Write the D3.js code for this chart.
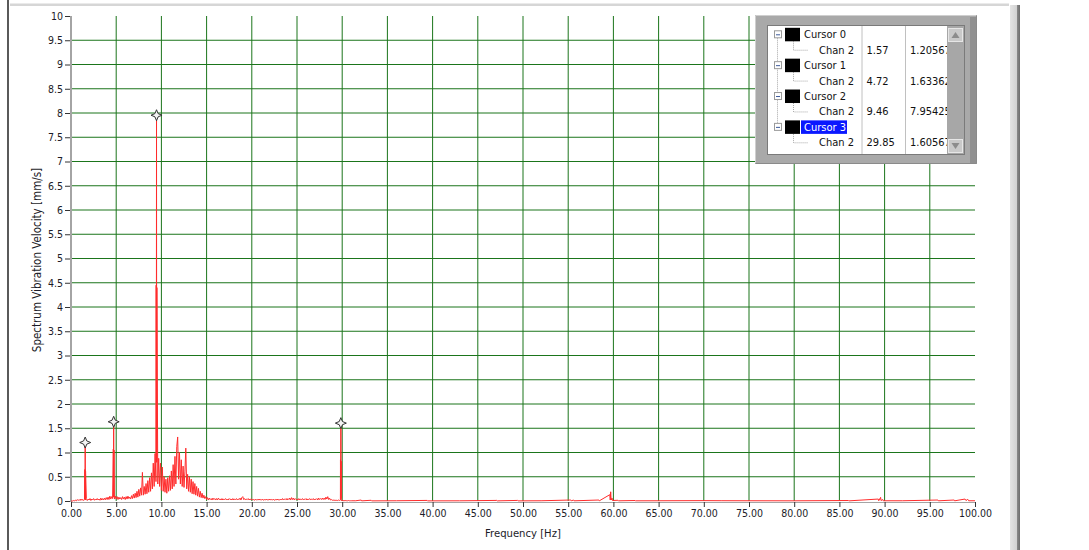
<!DOCTYPE html>
<html><head><meta charset="utf-8">
<script src="https://cdn.jsdelivr.net/npm/d3@7"></script>
<style>
html,body{margin:0;padding:0;background:#fff;}
svg{display:block;}
text{font-family:"DejaVu Sans Condensed","DejaVu Sans",sans-serif;font-stretch:condensed;}
</style></head>
<body>
<svg id="chart" width="1089" height="550"></svg>
<script>
// ---------- DATA ----------
const xTicks = [0,5,10,15,20,25,30,35,40,45,50,55,60,65,70,75,80,85,90,95,100];
const yTicks = [0,0.5,1,1.5,2,2.5,3,3.5,4,4.5,5,5.5,6,6.5,7,7.5,8,8.5,9,9.5,10];
const xLabel = "Frequency [Hz]";
const yLabel = "Spectrum Vibration Velocity [mm/s]";

// spectrum 0.0 .. 31.0 Hz, one value every 0.1 Hz
const baseStart = 0, baseStep = 0.1;
const spectrumLow = [
 0,0,0,0.01,0,0.02,0.005,0.03,0.01,0.03,
 0.01,0.04,0.015,0.03,0.01,0.04,0.02,0.05,0.01,0.04,
 0.02,0.05,0.01,0.04,0.02,0.05,0.015,0.04,0.02,0.05,
 0.02,0.04,0.015,0.06,0.02,0.05,0.02,0.06,0.025,0.07,
 0.03,0.08,0.03,0.1,0.04,0.09,0.05,0.11,0.04,0.1,
 0.04,0.09,0.03,0.08,0.04,0.07,0.03,0.09,0.04,0.08,
 0.03,0.09,0.04,0.1,0.05,0.08,0.04,0.11,0.05,0.14,
 0.06,0.16,0.07,0.2,0.08,0.24,0.1,0.27,0.12,0.59,
 0.12,0.3,0.14,0.36,0.15,0.42,0.18,0.48,0.2,0.58,
 0.25,0.78,0.3,0.98,0.4,0.9,0.35,0.88,0.3,0.78,
 0.22,0.7,0.2,0.5,0.18,0.45,0.16,0.48,0.2,0.52,
 0.22,0.62,0.25,0.75,0.3,0.92,0.35,1.12,1.32,0.45,
 1.0,0.35,0.85,0.3,0.72,0.28,0.6,1.09,0.25,0.55,
 0.2,0.5,0.18,0.45,0.15,0.4,0.14,0.36,0.12,0.3,
 0.1,0.26,0.08,0.2,0.07,0.16,0.06,0.12,0.05,0.09,
 0.03,0.07,0.02,0.06,0.03,0.05,0.02,0.06,0.03,0.05,
 0.02,0.05,0.02,0.06,0.03,0.04,0.02,0.05,0.02,0.04,
 0.03,0.05,0.02,0.04,0.02,0.05,0.03,0.04,0.02,0.05,
 0.02,0.04,0.03,0.05,0.02,0.04,0.03,0.06,0.02,0.07,
 0.09,0.03,0.05,0.02,0.04,0.03,0.05,0.02,0.04,0.03,
 0.04,0.02,0.03,0.015,0.04,0.02,0.03,0.02,0.04,0.02,
 0.03,0.02,0.04,0.015,0.03,0.02,0.04,0.02,0.03,0.02,
 0.04,0.02,0.03,0.02,0.04,0.015,0.03,0.02,0.04,0.02,
 0.03,0.02,0.04,0.02,0.05,0.02,0.04,0.03,0.05,0.02,
 0.05,0.03,0.06,0.02,0.07,0.03,0.06,0.02,0.05,0.03,
 0.04,0.02,0.05,0.02,0.04,0.03,0.05,0.02,0.04,0.03,
 0.05,0.02,0.04,0.03,0.05,0.02,0.04,0.03,0.05,0.02,
 0.04,0.03,0.05,0.02,0.06,0.03,0.05,0.03,0.06,0.03,
 0.06,0.03,0.08,0.04,0.09,0.03,0.06,0.02,0.03,0.015,
 0.02,0.01,0.02,0.01,0.015,0.01,0.02,0.01,0.02,0.01,
 0.01,0.005,0.01,0.005,0.01,0.005,0.005,0.01,0.005,0.005,0.005
];
// narrow harmonic spikes [Hz, mm/s]
const spikes = [
 [1.53,0.65],[1.55,0.04],[1.57,1.206],[1.59,0.04],[1.61,0.62],
 [4.68,1.07],[4.70,0.08],[4.72,1.634],[4.74,0.08],[4.76,1.05],
 [9.42,4.45],[9.44,0.8],[9.46,7.954],[9.48,0.8],[9.50,4.4],
 [29.81,0.85],[29.83,0.05],[29.85,1.606],[29.87,0.05],[29.89,0.82]
];
// 31 .. 100 Hz sparse readings [Hz, mm/s]
const spectrumHigh = [
 [31.5,0.005],[32.1,0.02],[32.15,0.003],[33.2,0.015],[33.25,0.003],[36,0.005],[39.4,0.012],[39.45,0.003],
 [43,0.004],[47.1,0.012],[47.15,0.003],[49.4,0.012],[49.45,0.003],[52,0.005],
 [55.3,0.02],[55.35,0.004],[55.6,0.02],[55.65,0.004],[58.4,0.02],[58.45,0.004],
 [59.6,0.13],[59.65,0.02],[59.7,0.19],[59.75,0.02],[59.85,0.06],[59.9,0.01],
 [60.5,0.015],[60.55,0.004],[62.4,0.01],[62.45,0.004],[65,0.005],[70,0.008],[72,0.006],
 [75,0.005],[80,0.004],[86,0.01],[86.05,0.003],[89.3,0.04],[89.35,0.005],[89.56,0.075],
 [89.6,0.01],[89.8,0.03],[89.85,0.005],[92,0.005],[95.9,0.02],[95.95,0.004],
 [97.7,0.02],[97.75,0.004],[98.9,0.04],[99.0,0.01],[99.2,0.035],[99.3,0.005],[100,0.005]
];

const cursorNames = ["Cursor 0","Cursor 1","Cursor 2","Cursor 3"];
const cursorChan  = ["Chan 2","Chan 2","Chan 2","Chan 2"];
const cursorX     = [1.57, 4.72, 9.46, 29.85];
const cursorXText = ["1.57","4.72","9.46","29.85"];
const cursorYText = ["1.20567","1.63362","7.95425","1.60567"];
const cursorY     = [1.20567, 1.63362, 7.95425, 1.60567];

// ---------- DRAW ----------
const svg = d3.select("#chart");
const x = d3.scaleLinear().domain([0,100]).range([71,975]);
const y = d3.scaleLinear().domain([0,10]).range([501,16]);

// panel frame
svg.append("rect").attr("x",10).attr("y",3.5).attr("width",999).attr("height",2.5).attr("fill","#d6d6d6");
svg.append("line").attr("x1",8).attr("x2",8).attr("y1",0).attr("y2",550).attr("stroke","#000").attr("stroke-width",1.3);
const sbGrad = svg.append("defs").append("linearGradient").attr("id","sbg");
sbGrad.append("stop").attr("offset","0").attr("stop-color","#e4e4e4");
sbGrad.append("stop").attr("offset","0.65").attr("stop-color","#d2d2d2");
sbGrad.append("stop").attr("offset","0.7").attr("stop-color","#8a8a8a");
sbGrad.append("stop").attr("offset","1").attr("stop-color","#6e6e6e");
svg.append("rect").attr("x",1010).attr("y",5).attr("width",10).attr("height",545).attr("fill","url(#sbg)");

// grid
const grid = svg.append("g");
grid.selectAll("line.v").data(xTicks.filter(d=>d>0 && d<100)).join("line")
  .attr("x1",d=>x(d)).attr("x2",d=>x(d)).attr("y1",y(10)).attr("y2",y(0))
  .attr("stroke","#1b751b").attr("stroke-width",1);
grid.selectAll("line.h").data(yTicks.filter(d=>d>0 && d<10)).join("line")
  .attr("x1",x(0)).attr("x2",x(100)).attr("y1",d=>y(d)).attr("y2",d=>y(d))
  .attr("stroke","#1b751b").attr("stroke-width",1);

// axes
const fmtY = d3.format("~g");
const gy = svg.append("g").attr("transform",`translate(${x(0)-1},0)`)
  .call(d3.axisLeft(y).tickValues(yTicks).tickFormat(fmtY).tickSize(5).tickPadding(2));
gy.select(".domain").remove();
svg.append("line").attr("x1",x(0)).attr("x2",x(0)).attr("y1",y(10)).attr("y2",y(0)+1)
  .attr("stroke","#a4a4a4").attr("stroke-width",2);
const gx = svg.append("g").attr("transform",`translate(0,${y(0)+1})`)
  .call(d3.axisBottom(x).tickValues(xTicks).tickFormat(d3.format(".2f")).tickSize(5).tickPadding(3));
gx.select(".domain").attr("stroke","#a4a4a4");
svg.selectAll(".tick line").attr("stroke","#333");
svg.selectAll(".tick text").attr("fill","#1c1c28").style("font-size","10.5px");

svg.append("text").attr("x",523).attr("y",537).attr("text-anchor","middle")
  .attr("fill","#1c1c28").style("font-size","11.2px").text(xLabel);
svg.append("text").attr("transform","translate(41,260) rotate(-90)").attr("text-anchor","middle")
  .attr("fill","#1c1c28").style("font-size","11.5px").text(yLabel);

// spectrum
const pts = spectrumLow.map((v,i)=>[+(baseStart+i*baseStep).toFixed(2), v])
  .concat(spikes).concat(spectrumHigh).sort((a,b)=>a[0]-b[0]);
svg.append("path").datum(pts)
  .attr("fill","none").attr("stroke","#ff2c2c").attr("stroke-width",1)
  .attr("d", d3.line().x(d=>x(d[0])).y(d=>y(d[1])));

// cursor markers
const star = "M0,-5.5L1.6,-1.6L5.5,0L1.6,1.6L0,5.5L-1.6,1.6L-5.5,0L-1.6,-1.6Z";
svg.selectAll("path.cur").data(cursorX).join("path")
  .attr("transform",(d,i)=>`translate(${x(d)},${y(cursorY[i])})`)
  .attr("d",star).attr("fill","#f4f4f4").attr("stroke","#333").attr("stroke-width",1);

// ---------- cursor legend ----------
const L = svg.append("g");
L.append("rect").attr("x",755).attr("y",15).attr("width",222).attr("height",149).attr("fill","#a9a9a9");
L.append("path").attr("d","M755.5,163.5V15.5H976.5").attr("fill","none").attr("stroke","#cfcfcf");
L.append("path").attr("d","M976.5,15.5V163.5H755.5").attr("fill","none").attr("stroke","#8a8a8a").attr("stroke-width",1);
L.append("rect").attr("x",970).attr("y",17).attr("width",6).attr("height",146).attr("fill","#909090");
L.append("rect").attr("x",767.5).attr("y",25.5).attr("width",197).attr("height",129).attr("fill","#fff").attr("stroke","#7a7a7a");
// scrollbar
L.append("rect").attr("x",947).attr("y",26).attr("width",17).attr("height",128).attr("fill","#a7a7a7");
[28,139].forEach((by,k)=>{
  L.append("rect").attr("x",948.5).attr("y",by+0.5).attr("width",14).attr("height",13).attr("fill","#c9c9c9").attr("stroke","#e6e6e6");
  L.append("path").attr("d", k===0 ? `M951.5,${by+10}L955.5,${by+4}L959.5,${by+10}Z` : `M951.5,${by+4}L955.5,${by+10}L959.5,${by+4}Z`)
   .attr("fill","#8c8c8c");
});
// column dividers
[862,905.5].forEach(cx=>L.append("line").attr("x1",cx).attr("x2",cx).attr("y1",26).attr("y2",154).attr("stroke","#c0c0c0"));

const rowStep = 15.43, row0 = 34.3;
const ry = i => row0 + i*rowStep;
// tree dotted lines
L.append("line").attr("x1",777.5).attr("x2",777.5).attr("y1",ry(0)).attr("y2",ry(6)).attr("stroke","#a8a8a8").attr("stroke-dasharray","1,1");
cursorNames.forEach((n,i)=>{
  const cy = ry(2*i), ch = ry(2*i+1);
  L.append("path").attr("d",`M793.5,${cy+7}V${ch+0.5}H808`).attr("fill","none").attr("stroke","#a8a8a8").attr("stroke-dasharray","1,1");
  L.append("rect").attr("x",774.5).attr("y",cy-3.5).attr("width",7).attr("height",7).attr("fill","#fff").attr("stroke","#9a9a9a");
  L.append("line").attr("x1",776).attr("x2",780).attr("y1",cy+0.5).attr("y2",cy+0.5).attr("stroke","#3d5a9a");
  L.append("rect").attr("x",785).attr("y",cy-6.5).attr("width",15).attr("height",13.5).attr("fill","#000");
  if(i===3) L.append("rect").attr("x",801).attr("y",cy-6.5).attr("width",46).attr("height",13.5).attr("fill","#0a18ff");
  L.append("text").attr("x",804).attr("y",cy+4).attr("fill", i===3 ? "#fff":"#111").style("font-size","11px").text(n);
});
L.append("clipPath").attr("id","lc").append("rect").attr("x",768).attr("y",26).attr("width",179).attr("height",128);
const T = L.append("g").attr("clip-path","url(#lc)");
cursorNames.forEach((n,i)=>{
  const ch = ry(2*i+1);
  T.append("text").attr("x",819).attr("y",ch+4).attr("fill","#111").style("font-size","11px").text(cursorChan[i]);
  T.append("text").attr("x",866.5).attr("y",ch+4).attr("fill","#111").style("font-size","11px").text(cursorXText[i]);
  T.append("text").attr("x",910).attr("y",ch+4).attr("fill","#111").style("font-size","11px").text(cursorYText[i]);
});
</script>
</body></html>
